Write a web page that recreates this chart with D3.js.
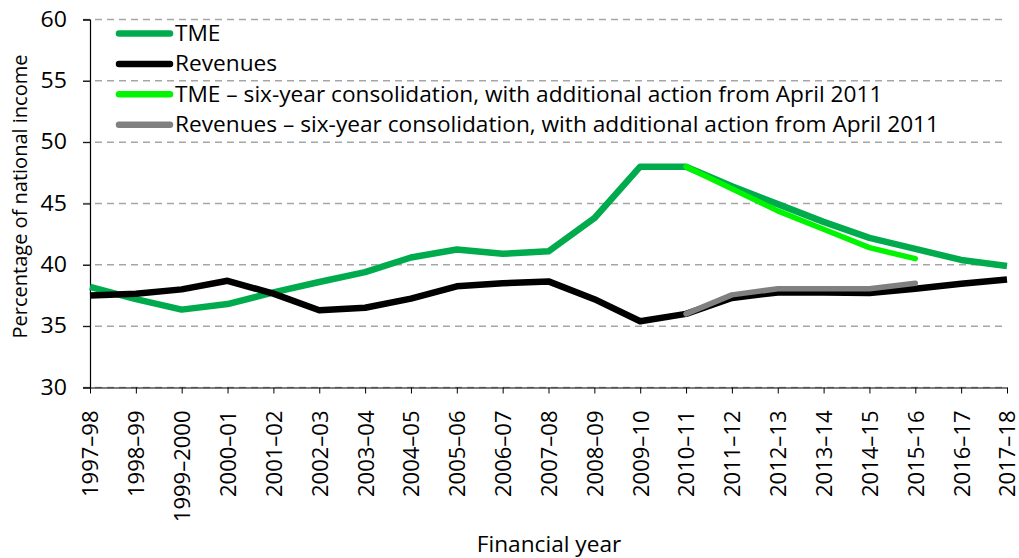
<!DOCTYPE html>
<html>
<head>
<meta charset="utf-8">
<script src="https://cdn.jsdelivr.net/npm/d3@7"></script>
<style>
  body { margin: 0; background: #fff; }
  svg { display: block; font-family: "Open Sans", sans-serif; }
</style>
</head>
<body>
<script>
  const years = [
    "1997–98", "1998–99", "1999–2000", "2000–01", "2001–02", "2002–03", "2003–04",
    "2004–05", "2005–06", "2006–07", "2007–08", "2008–09", "2009–10", "2010–11",
    "2011–12", "2012–13", "2013–14", "2014–15", "2015–16", "2016–17", "2017–18",
  ];

  const tme = [38.2, 37.2, 36.35, 36.8, 37.75, 38.6, 39.4, 40.6, 41.25, 40.9, 41.1,
    43.8, 48.0, 48.0, 46.4, 44.95, 43.5, 42.2, 41.3, 40.4, 39.9];
  const revenues = [37.5, 37.65, 38.0, 38.7, 37.65, 36.3, 36.5, 37.25, 38.25, 38.5, 38.65,
    37.2, 35.4, 36.0, 37.3, 37.75, 37.75, 37.7, 38.05, 38.45, 38.8];
  const tmeSix = [null, null, null, null, null, null, null, null, null, null, null,
    null, null, 48.0, 46.2, 44.4, 42.9, 41.4, 40.5, null, null];
  const revSix = [null, null, null, null, null, null, null, null, null, null, null,
    null, null, 36.0, 37.55, 38.05, 38.05, 38.05, 38.5, null, null];

  const yTicks = [30, 35, 40, 45, 50, 55, 60];

  const series = [
    { name: "TME", values: tme, color: "#00ab4e", width: 6.5, cap: "butt" },
    { name: "Revenues", values: revenues, color: "#000000", width: 6.5, cap: "butt" },
    { name: "TME – six-year consolidation, with additional action from April 2011", values: tmeSix, color: "#00f500", width: 5.5, cap: "round" },
    { name: "Revenues – six-year consolidation, with additional action from April 2011", values: revSix, color: "#808080", width: 5.5, cap: "round" },
  ];

  const W = 1019, H = 558;
  const margin = { top: 19.5, right: 12, bottom: 170.5, left: 90 };

  const svg = d3.select("body").append("svg")
    .attr("width", W)
    .attr("height", H);

  const x = d3.scalePoint()
    .domain(years)
    .range([margin.left, W - margin.right])
    .padding(0);

  const y = d3.scaleLinear()
    .domain([30, 60])
    .range([H - margin.bottom, margin.top]);

  // gridlines
  svg.append("g")
    .selectAll("line")
    .data(yTicks)
    .join("line")
    .attr("x1", margin.left - 7)
    .attr("x2", W - margin.right)
    .attr("y1", (d) => y(d))
    .attr("y2", (d) => y(d))
    .attr("stroke", "#a6a6a6")
    .attr("stroke-width", 1.5)
    .attr("stroke-dasharray", "7,5");

  // y axis
  const yAxis = svg.append("g")
    .attr("transform", `translate(${margin.left},0)`)
    .call(d3.axisLeft(y).tickValues(yTicks).tickSize(7));
  yAxis.select(".domain").attr("stroke", "#000").attr("stroke-width", 1.2);
  yAxis.selectAll(".tick line").attr("stroke", "#000");
  yAxis.selectAll(".tick text")
    .attr("font-size", 21)
    .attr("font-family", "Open Sans, sans-serif")
    .attr("fill", "#000")
    .attr("x", 0)
    .attr("transform", "translate(-23,0) scale(1.1,1)");

  // x axis
  const xAxis = svg.append("g")
    .attr("transform", `translate(0,${y(30)})`)
    .call(d3.axisBottom(x).tickSize(6).tickSizeOuter(0));
  xAxis.select(".domain").attr("stroke", "#000").attr("stroke-width", 1.2);
  xAxis.selectAll(".tick line").attr("stroke", "#000");
  xAxis.selectAll(".tick text")
    .attr("font-size", 22)
    .attr("font-family", "Open Sans, sans-serif")
    .attr("fill", "#000")
    .attr("transform", "translate(0,23) rotate(-90)")
    .attr("text-anchor", "end")
    .attr("x", 0)
    .attr("y", 0)
    .attr("dy", "0.36em");

  // lines
  const line = d3.line()
    .defined((d) => d != null)
    .x((d, i) => x(years[i]))
    .y((d) => y(d));

  svg.append("g")
    .selectAll("path")
    .data(series)
    .join("path")
    .attr("d", (s) => line(s.values))
    .attr("fill", "none")
    .attr("stroke", (s) => s.color)
    .attr("stroke-width", (s) => s.width)
    .attr("stroke-linecap", (s) => s.cap)
    .attr("stroke-linejoin", "round");

  // legend
  const legend = svg.append("g")
    .selectAll("g")
    .data(series)
    .join("g")
    .attr("transform", (d, i) => `translate(119,${33.5 + i * 30.4})`);

  legend.append("line")
    .attr("x1", 0)
    .attr("x2", 51)
    .attr("stroke", (s) => s.color)
    .attr("stroke-width", 6.5)
    .attr("stroke-linecap", "round");

  legend.append("text")
    .attr("transform", "translate(56,0) scale(1.08,1)")
    .attr("dy", "0.36em")
    .attr("font-size", 21)
    .attr("fill", "#000")
    .text((s) => s.name);

  // axis titles
  svg.append("text")
    .attr("transform", `translate(27,${(y(30) + y(60)) / 2 - 7}) rotate(-90)`)
    .attr("text-anchor", "middle")
    .attr("font-size", 20)
    .text("Percentage of national income");

  svg.append("text")
    .attr("transform", "translate(549,551.5) scale(1.03,1)")
    .attr("text-anchor", "middle")
    .attr("font-size", 22)
    .text("Financial year");
</script>
</body>
</html>
